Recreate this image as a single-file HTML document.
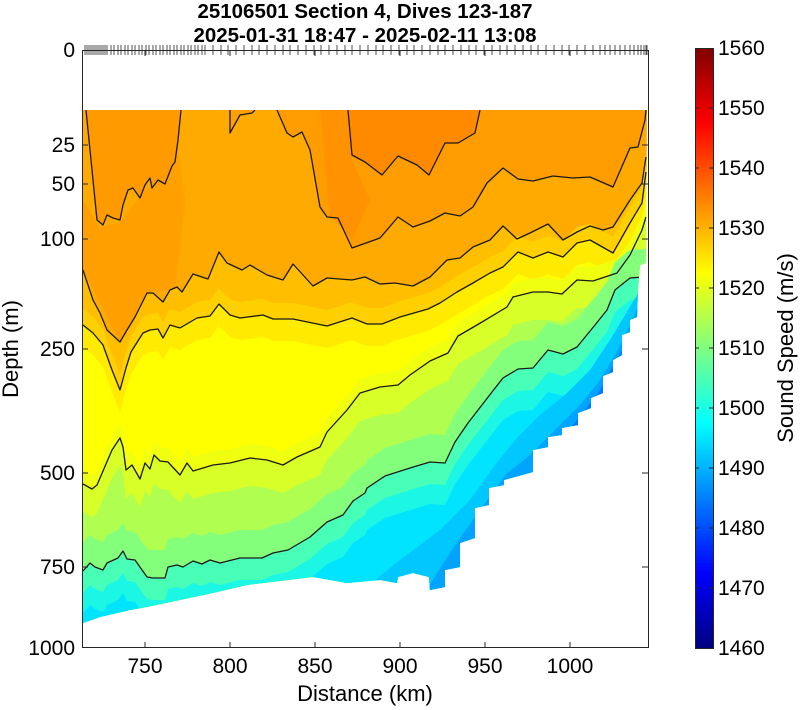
<!DOCTYPE html>
<html><head><meta charset="utf-8"><style>
html,body{margin:0;padding:0;background:#fff;overflow:hidden;}
svg{display:block;font-family:"Liberation Sans",Arial,sans-serif;}
</style></head><body>
<svg width="800" height="710" viewBox="0 0 800 710" xmlns="http://www.w3.org/2000/svg">
<defs>
<clipPath id="dc"><path d="M83,110 L647,110 L646,263 L640,265 L638,290 L637,317 L630,320 L630,332 L622,335 L622,355 L613,360 L613,372 L603,376 L603,393 L591,398 L591,408 L578,413 L578,425 L562,428 L562,435 L548,437 L548,447 L533,450 L533,472 L504,480 L504,485 L489,488 L489,505 L475,508 L475,538 L460,543 L460,567 L445,570 L445,587 L430,590 L429,577 L413,573 L398,577 L397,583 L380,580 L347,583 L313,577 L280,581 L247,585 L213,593 L180,600 L147,607 L130,610 L100,617 L83,623 Z"/></clipPath>
<linearGradient id="jet" x1="0" y1="1" x2="0" y2="0">
<stop offset="0" stop-color="#000080"/><stop offset="0.125" stop-color="#0000ff"/><stop offset="0.375" stop-color="#00ffff"/><stop offset="0.625" stop-color="#ffff00"/><stop offset="0.875" stop-color="#ff0000"/><stop offset="1" stop-color="#800000"/>
</linearGradient>
<path id="pE" d="M0,325 L83,325 L93,333 L103,345 L112,370 L120,390 L126,368 L131,352 L143,333 L150,330 L158,329 L163,338 L170,325 L180,328 L197,318 L210,316 L219,304 L230,315 L240,318 L263,315 L273,319 L293,319 L327,326 L352,318 L367,324 L382,324 L400,317 L428,309 L440,303 L457,292 L473,283 L490,273 L503,267 L518,252 L533,258 L548,252 L563,257 L577,243 L590,240 L613,253 L630,223 L642,203 L646,172 L700,120 L700,680 L0,680 Z"/>
<path id="pF" d="M0,484 L83,484 L92,489 L97,485 L112,450 L120,438 L123,447 L126,470 L132,465 L140,479 L145,463 L150,469 L154,455 L160,461 L168,462 L180,475 L187,463 L193,471 L213,465 L230,463 L250,458 L267,460 L283,465 L297,457 L320,447 L327,432 L347,410 L360,393 L380,387 L398,385 L410,375 L430,361 L448,353 L458,336 L477,325 L507,307 L513,297 L533,292 L548,292 L562,294 L577,280 L593,281 L617,273 L630,255 L642,230 L646,217 L700,180 L700,680 L0,680 Z"/>
<path id="pH" d="M0,571 L83,571 L90,563 L95,567 L103,570 L107,563 L118,558 L123,551 L127,559 L135,560 L147,577 L153,578 L165,578 L168,567 L177,565 L183,567 L193,561 L202,564 L210,560 L220,563 L240,558 L262,558 L273,553 L288,550 L310,537 L327,522 L343,515 L353,501 L365,493 L367,488 L385,476 L410,468 L430,462 L445,463 L455,442 L468,423 L492,392 L503,378 L518,369 L533,368 L548,350 L563,354 L577,347 L595,325 L607,310 L615,290 L630,278 L643,277 L700,277 L700,680 L0,680 Z"/>
</defs>
<g clip-path="url(#dc)">
<rect x="80" y="100" width="580" height="560" fill="#ffaa00"/>
<path d="M83,200 L100,228 L120,222 L150,185 L178,150 L185,200 L175,290 L150,292 L120,342 L83,270 Z" fill="#ffa000"/>
<path d="M83,100 L86,110 L90,150 L97,220 L103,225 L107,215 L113,218 L120,220 L123,205 L128,190 L133,188 L140,198 L145,185 L150,178 L152,188 L158,180 L165,184 L172,166 L175,162 L178,140 L181,100 Z" fill="#ff9a00"/>
<path d="M228,100 L230,133 L240,115 L252,113 L255,100 Z" fill="#ffa000"/>
<path d="M277,100 L277,110 L287,133 L293,137 L302,132 L310,150 L320,207 L327,217 L338,218 L352,248 L380,238 L398,217 L413,227 L430,221 L445,213 L460,216 L473,207 L487,183 L503,168 L518,179 L533,181 L553,176 L573,178 L590,177 L613,187 L630,148 L638,147 L645,120 L646,100 Z" fill="#ff9c00"/>
<path d="M320,110 L348,110 L352,160 L370,200 L352,240 L330,215 Z" fill="#ff9200"/>
<path d="M348,100 L352,155 L365,162 L382,175 L398,156 L417,165 L429,175 L445,143 L458,143 L475,133 L480,100 Z" fill="#ff8a00"/>
<path d="M0,270 L83,270 L93,300 L100,313 L107,330 L120,342 L127,330 L135,317 L147,293 L153,293 L163,302 L170,290 L177,287 L182,292 L193,274 L208,279 L219,252 L227,263 L242,270 L250,265 L267,275 L283,280 L293,264 L313,286 L327,278 L352,280 L365,277 L380,284 L395,283 L413,286 L430,277 L447,260 L460,258 L473,247 L490,240 L503,226 L517,239 L530,233 L548,224 L563,240 L577,232 L590,226 L603,230 L613,227 L630,200 L642,183 L646,157 L700,100 L700,680 L0,680 Z" fill="#ffbe00"/>
<use href="#pE" transform="translate(0,-16)" fill="#ffd000"/>
<use href="#pE" fill="#ffea00"/>
<use href="#pE" transform="translate(0,22)" fill="#ffff00"/>
<use href="#pF" transform="translate(0,-14)" fill="#f0ff10"/>
<use href="#pF" fill="#d8ff28"/>
<use href="#pF" transform="translate(0,28)" fill="#b0ff50"/>
<use href="#pH" transform="translate(0,-28)" fill="#84ff7c"/>
<use href="#pH" fill="#48ffb8"/>
<use href="#pH" transform="translate(0,22)" fill="#1cf6e4"/>
<use href="#pH" transform="translate(0,42)" fill="#00e4ff"/>
<path d="M350,600 L400,560 L440,530 L470,500 L495,465 L515,440 L540,415 L565,395 L590,370 L610,340 L625,315 L640,290 L700,250 L700,680 L300,680 Z" fill="#00c8ff"/>
<path d="M420,600 L455,545 L480,510 L505,475 L530,455 L555,430 L580,405 L600,380 L615,355 L630,325 L645,290 L700,250 L700,680 L400,680 Z" fill="#00a4ff"/>
<path d="M540,460 L565,435 L585,410 L600,390 L612,368 L625,345 L640,310 L700,280 L700,680 L520,680 Z" fill="#0078ff"/>
<g fill="none" stroke="#1a1a1a" stroke-width="1.3" stroke-linejoin="round">
<polyline points="86,110 90,150 97,220 103,225 107,215 113,218 120,220 123,205 128,190 133,188 140,198 145,185 150,178 152,188 158,180 165,184 172,166 175,162 178,140 181,110"/>
<polyline points="230,110 230,133 240,115 252,113 255,110"/>
<polyline points="277,110 287,133 293,137 302,132 310,150 320,207 327,217 338,218 352,248 380,238 398,217 413,227 430,221 445,213 460,216 473,207 487,183 503,168 518,179 533,181 553,176 573,178 590,177 613,187 630,148 638,147 645,120 646,110"/>
<polyline points="348,110 352,155 365,162 382,175 398,156 417,165 429,175 445,143 458,143 475,133 480,110"/>
<polyline points="83,270 93,300 100,313 107,330 120,342 127,330 135,317 147,293 153,293 163,302 170,290 177,287 182,292 193,274 208,279 219,252 227,263 242,270 250,265 267,275 283,280 293,264 313,286 327,278 352,280 365,277 380,284 395,283 413,286 430,277 447,260 460,258 473,247 490,240 503,226 517,239 530,233 548,224 563,240 577,232 590,226 603,230 613,227 630,200 642,183 646,157"/>
<polyline points="83,325 93,333 103,345 112,370 120,390 126,368 131,352 143,333 150,330 158,329 163,338 170,325 180,328 197,318 210,316 219,304 230,315 240,318 263,315 273,319 293,319 327,326 352,318 367,324 382,324 400,317 428,309 440,303 457,292 473,283 490,273 503,267 518,252 533,258 548,252 563,257 577,243 590,240 613,253 630,223 642,203 646,172"/>
<polyline points="83,484 92,489 97,485 112,450 120,438 123,447 126,470 132,465 140,479 145,463 150,469 154,455 160,461 168,462 180,475 187,463 193,471 213,465 230,463 250,458 267,460 283,465 297,457 320,447 327,432 347,410 360,393 380,387 398,385 410,375 430,361 448,353 458,336 477,325 507,307 513,297 533,292 548,292 562,294 577,280 593,281 617,273 630,255 642,230 646,217"/>
<polyline points="83,571 90,563 95,567 103,570 107,563 118,558 123,551 127,559 135,560 147,577 153,578 165,578 168,567 177,565 183,567 193,561 202,564 210,560 220,563 240,558 262,558 273,553 288,550 310,537 327,522 343,515 353,501 365,493 367,488 385,476 410,468 430,462 445,463 455,442 468,423 492,392 503,378 518,369 533,368 548,350 563,354 577,347 595,325 607,310 615,290 630,278 643,277"/>
</g>
</g>
<g stroke="#262626" stroke-width="1" fill="none">
<rect x="82.5" y="50.5" width="566" height="597"/>
<path d="M82,145h6M82,184h6M82,239h6M82,349h6M82,473h6M82,567h6M648,145h-6M648,184h-6M648,239h-6M648,349h-6M648,473h-6M648,567h-6M145,648v-6M230,648v-6M315,648v-6M400,648v-6M485,648v-6M570,648v-6M145,50v6M230,50v6M315,50v6M400,50v6M485,50v6M570,50v6"/>
</g>
<g stroke="#262626" stroke-width="0.8" fill="none">
<path d="M85,45v10M87,45v10M89,45v10M91,45v10M93,45v10M95,45v10M97,45v10M99,45v10M101,45v10M103,45v10M105,45v10M107,45v10M111,45v10M114,45v10M118,45v10M121,45v10M125,45v10M128,45v10M132,45v10M135,45v10M139,45v10M142,45v10M146,45v10M149,45v10M153,45v10M156,45v10M160,45v10M163,45v10M167,45v10M170,45v10M174,45v10M177,45v10M181,45v10M184,45v10M188,45v10M191,45v10M195,45v10M198,45v10M202,45v10M205,45v10M213,45v10M221,45v10M228,45v10M236,45v10M244,45v10M252,45v10M259,45v10M267,45v10M275,45v10M283,45v10M290,45v10M298,45v10M306,45v10M314,45v10M321,45v10M329,45v10M337,45v10M345,45v10M352,45v10M360,45v10M368,45v10M376,45v10M383,45v10M391,45v10M399,45v10M407,45v10M414,45v10M422,45v10M430,45v10M438,45v10M445,45v10M453,45v10M461,45v10M469,45v10M476,45v10M484,45v10M492,45v10M500,45v10M507,45v10M515,45v10M523,45v10M531,45v10M538,45v10M546,45v10M554,45v10M562,45v10M569,45v10M577,45v10M585,45v10M593,45v10M600,45v10M605,45v10M610,45v10M615,45v10M620,45v10M625,45v10M630,45v10M634,45v10M638,45v10M641,45v10M644,45v10M646,45v10M647,45v10"/>
</g>
<g font-size="21" fill="#000" text-anchor="end">
<text x="75" y="57">0</text><text x="75" y="152">25</text><text x="75" y="191">50</text><text x="75" y="246">100</text><text x="75" y="356">250</text><text x="75" y="480">500</text><text x="75" y="574">750</text><text x="75" y="655">1000</text>
</g>
<g font-size="21" fill="#000" text-anchor="middle">
<text x="145" y="673">750</text><text x="230" y="673">800</text><text x="315" y="673">850</text><text x="400" y="673">900</text><text x="485" y="673">950</text><text x="570" y="673">1000</text>
</g>
<text x="365" y="701" font-size="22" text-anchor="middle">Distance (km)</text>
<text transform="translate(18,349) rotate(-90)" font-size="22" text-anchor="middle">Depth (m)</text>
<g font-size="20.5" font-weight="bold" text-anchor="middle">
<text x="365" y="18">25106501 Section 4, Dives 123-187</text>
<text x="365" y="42">2025-01-31 18:47 - 2025-02-11 13:08</text>
</g>
<rect x="695" y="48" width="18" height="600" fill="url(#jet)"/>
<rect x="695.5" y="48.5" width="18" height="600" fill="none" stroke="#262626"/>
<g stroke="#262626"><path d="M695,108h4M695,168h4M695,228h4M695,288h4M695,348h4M695,408h4M695,468h4M695,528h4M695,588h4M713,108h-4M713,168h-4M713,228h-4M713,288h-4M713,348h-4M713,408h-4M713,468h-4M713,528h-4M713,588h-4"/></g>
<g font-size="21" fill="#000">
<text x="718" y="55">1560</text><text x="718" y="115">1550</text><text x="718" y="175">1540</text><text x="718" y="235">1530</text><text x="718" y="295">1520</text><text x="718" y="355">1510</text><text x="718" y="415">1500</text><text x="718" y="475">1490</text><text x="718" y="535">1480</text><text x="718" y="595">1470</text><text x="718" y="655">1460</text>
</g>
<text transform="translate(793,348) rotate(-90)" font-size="22" text-anchor="middle">Sound Speed (m/s)</text>
</svg>
</body></html>
